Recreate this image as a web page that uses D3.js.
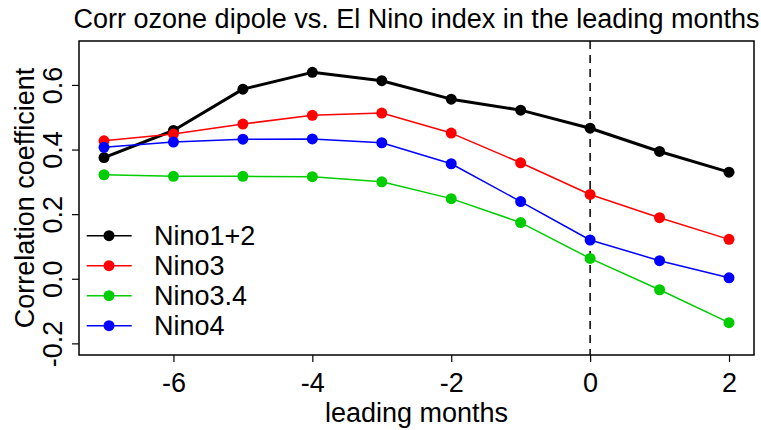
<!DOCTYPE html>
<html>
<head>
<meta charset="utf-8">
<script src="https://cdn.jsdelivr.net/npm/d3@7"></script>
<style>
  body { margin: 0; background: #fff; }
  svg text { font-family: "Liberation Sans", Arial, sans-serif; fill: #000; }
</style>
</head>
<body>
<script>
// leading months and correlation values
let months = [-7, -6, -5, -4, -3, -2, -1, 0, 1, 2];
let nino12 = [0.375, 0.459, 0.587, 0.639, 0.613, 0.556, 0.522, 0.466, 0.394, 0.330];
let nino3 = [0.427, 0.448, 0.479, 0.506, 0.513, 0.451, 0.359, 0.261, 0.189, 0.122];
let nino34 = [0.322, 0.317, 0.317, 0.316, 0.300, 0.248, 0.174, 0.063, -0.034, -0.136];
let nino4 = [0.407, 0.423, 0.432, 0.433, 0.421, 0.356, 0.239, 0.120, 0.056, 0.003];
let seriesNames = ["Nino1+2", "Nino3", "Nino3.4", "Nino4"];
let seriesColors = ["#000000", "#ff0000", "#00cd00", "#0000ff"];
let xTicks = [-6, -4, -2, 0, 2];
let yTicks = [-0.2, 0.0, 0.2, 0.4, 0.6];

let width = 761,
    height = 430,
    margin = {top: 41, right: 7, bottom: 75, left: 79},
    innerWidth = width - margin.left - margin.right,
    innerHeight = height - margin.top - margin.bottom,
    fontSize = 27;

let svg = d3.select("body").append("svg")
    .attr("width", width).attr("height", height);
let g = svg.append("g")
    .attr("transform", "translate(" + margin.left + "," + margin.top + ")");

// R style 4% padding round the data range
let x = d3.scaleLinear().domain([-7.36, 2.36]).range([0, innerWidth]);
let y = d3.scaleLinear().domain([-0.236, 0.736]).range([innerHeight, 0]);

let series = [nino12, nino3, nino34, nino4];

// x axis
let xAxis = g.append("g")
    .attr("transform", "translate(0," + innerHeight + ")")
    .call(d3.axisBottom(x).tickValues(xTicks).tickSize(7)
        .tickFormat(function(d) { return String(d); }));
xAxis.attr("font-family", null).attr("font-size", null);
xAxis.select(".domain").remove();
xAxis.selectAll("line").attr("stroke", "#000").attr("stroke-width", 1.2);
xAxis.selectAll("text")
    .attr("font-size", fontSize)
    .attr("y", 37).attr("dy", null);

// y axis with rotated labels
let yAxis = g.append("g")
    .call(d3.axisLeft(y).tickValues(yTicks).tickSize(7)
        .tickFormat(function(d) { return d3.format(".1f")(d).replace("−", "-"); }));
yAxis.attr("font-family", null).attr("font-size", null);
yAxis.select(".domain").remove();
yAxis.selectAll("line").attr("stroke", "#000").attr("stroke-width", 1.2);
yAxis.selectAll("text")
    .attr("font-size", fontSize)
    .attr("text-anchor", "middle")
    .attr("x", null).attr("dy", null)
    .attr("transform", "translate(-17,0) rotate(-90)");

// plot box
g.append("rect")
    .attr("width", innerWidth).attr("height", innerHeight)
    .attr("fill", "none").attr("stroke", "#000").attr("stroke-width", 1.5);

// dashed line at 0
g.append("line")
    .attr("x1", x(0)).attr("x2", x(0))
    .attr("y1", 0).attr("y2", innerHeight)
    .attr("stroke", "#000").attr("stroke-width", 1.5)
    .attr("stroke-dasharray", "8,6");

let line = d3.line()
    .x(function(d, i) { return x(months[i]); })
    .y(function(d) { return y(d); });

series.forEach(function(s, k) {
    g.append("path")
        .datum(s)
        .attr("fill", "none")
        .attr("stroke", seriesColors[k])
        .attr("stroke-width", k == 0 ? 3 : 1.5)
        .attr("stroke-linejoin", "round")
        .attr("d", line);
    g.selectAll(".pt" + k)
        .data(s).enter().append("circle")
        .attr("cx", function(d, i) { return x(months[i]); })
        .attr("cy", function(d) { return y(d); })
        .attr("r", 5.5)
        .attr("fill", seriesColors[k]);
});

// legend
let legend = g.append("g").attr("transform", "translate(0,194.7)");
seriesNames.forEach(function(name, k) {
    let row = legend.append("g").attr("transform", "translate(0," + (k * 30) + ")");
    row.append("line")
        .attr("x1", 7.7).attr("x2", 52.7)
        .attr("stroke", seriesColors[k]).attr("stroke-width", 1.5);
    row.append("circle").attr("cx", 30).attr("r", 5.5).attr("fill", seriesColors[k]);
    row.append("text").attr("x", 75).attr("y", 9.5)
        .attr("font-size", fontSize).text(name);
});

// titles
svg.append("text")
    .attr("x", margin.left + innerWidth / 2).attr("y", 28)
    .attr("text-anchor", "middle").attr("font-size", fontSize)
    .text("Corr ozone dipole vs. El Nino index in the leading months");

svg.append("text")
    .attr("x", margin.left + innerWidth / 2).attr("y", 422)
    .attr("text-anchor", "middle").attr("font-size", fontSize)
    .text("leading months");

svg.append("text")
    .attr("transform", "translate(34," + (margin.top + innerHeight / 2) + ") rotate(-90)")
    .attr("text-anchor", "middle").attr("font-size", fontSize)
    .text("Correlation coefficient");
</script>
</body>
</html>
